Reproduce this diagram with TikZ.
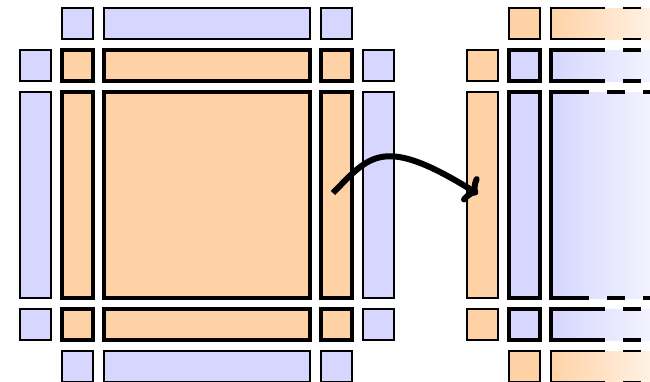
\documentclass[tikz,border=0pt]{standalone}
\usepackage{tikz}
\usetikzlibrary{arrows,arrows.meta,calc}
\colorlet{halocol}{blue!16}
\colorlet{corecol}{orange!35}
\tikzset{cell/.style={rectangle, inner sep=0pt, outer sep=0pt, minimum width=31pt, minimum height=31pt}}
\tikzset{wide/.style={minimum width=206pt}}
\tikzset{tall/.style={minimum height=206pt}}
\tikzset{halo/.style={cell, draw, line width=2pt, fill=#1}}
\tikzset{halo/.default=halocol}
\tikzset{core/.style={cell, draw, line width=4.5pt, fill=#1}}
\tikzset{core/.default=corecol}
\tikzset{fade/.style={cell, minimum width=101pt, left color=#1, right color=#1!30!white}}
\tikzset{cut/.style={dash pattern=on 18pt off 18pt, dash phase=18pt}}
\tikzset{move/.style={line width=6pt, -{To[length=12pt, width=30pt]}}}

% open cell: solid left part, dashed top and bottom towards the right
\newcommand{\openedge}[3]{%
  \draw[line width=#2] ($(#1.north west)+(#3,0)$) -- (#1.north west) -- (#1.south west) -- ($(#1.south west)+(#3,0)$);
  \draw[line width=#2, cut] ($(#1.north west)+(#3,0)$) -- (#1.north east);
  \draw[line width=#2, cut] ($(#1.south west)+(#3,0)$) -- (#1.south east);}

\begin{document}
\begin{tikzpicture}[x=1pt, y=-1pt]
\useasboundingbox (0,0) rectangle (650,381);
\clip (0,0) rectangle (650,381);

% halo around the block
\node (a12) at (77.5,23.5)[halo]{};
\node (a13) at (207,23.5)[halo, wide]{};
\node (a14) at (336.5,23.5)[halo]{};
\node (a21) at (35.5,65.5)[halo]{};
\node (a25) at (378.5,65.5)[halo]{};
\node (a31) at (35.5,195)[halo, tall]{};
\node (a35) at (378.5,195)[halo, tall]{};
\node (a41) at (35.5,324.5)[halo]{};
\node (a45) at (378.5,324.5)[halo]{};
\node (a52) at (77.5,366.5)[halo]{};
\node (a53) at (207,366.5)[halo, wide]{};
\node (a54) at (336.5,366.5)[halo]{};

% the block itself
\node (a22) at (77.5,65.5)[core]{};
\node (a23) at (207,65.5)[core, wide]{};
\node (a24) at (336.5,65.5)[core]{};
\node (a32) at (77.5,195)[core, tall]{};
\node (a33) at (207,195)[core, wide, tall]{};
\node (a34) at (336.5,195)[core, tall]{};
\node (a42) at (77.5,324.5)[core]{};
\node (a43) at (207,324.5)[core, wide]{};
\node (a44) at (336.5,324.5)[core]{};

%now the swapped block, cut off on the right
\node (b21) at (482.5,65.5)[halo=corecol]{};
\node (b31) at (482.5,195)[halo=corecol, tall]{};
\node (b41) at (482.5,324.5)[halo=corecol]{};
\node (b12) at (524.5,23.5)[halo=corecol]{};
\node (b52) at (524.5,366.5)[halo=corecol]{};
\node (b22) at (524.5,65.5)[core=halocol]{};
\node (b32) at (524.5,195)[core=halocol, tall]{};
\node (b42) at (524.5,324.5)[core=halocol]{};

\node (b13) at (601.5,23.5)[fade=corecol]{};
\node (b23) at (601.5,65.5)[fade=halocol]{};
\node (b33) at (601.5,195)[fade=halocol, tall]{};
\node (b43) at (601.5,324.5)[fade=halocol]{};
\node (b53) at (601.5,366.5)[fade=corecol]{};
\openedge{b13}{2pt}{54}
\openedge{b23}{4.5pt}{54}
\openedge{b33}{4.5pt}{38}
\openedge{b43}{4.5pt}{54}
\openedge{b53}{2pt}{54}

\coordinate (from) at (333,193);
\coordinate (to) at (478,194);
\draw[move] (from) .. controls (370,155) and (383,135) .. (to);
\end{tikzpicture}
\end{document}
